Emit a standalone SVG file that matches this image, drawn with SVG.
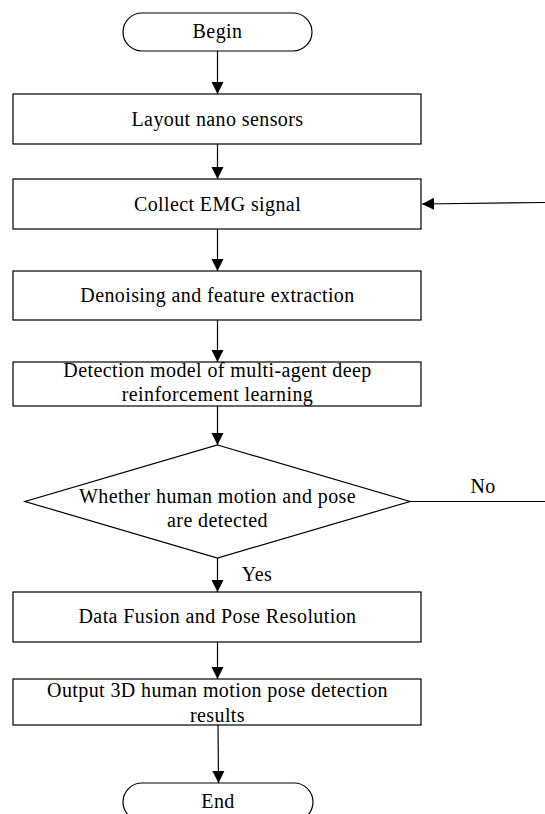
<svg xmlns="http://www.w3.org/2000/svg" width="545" height="814" viewBox="0 0 545 814">
<style>
.n{fill:#fff;stroke:#000;stroke-width:1.2}
.t{font-family:"Liberation Serif","Times New Roman",serif;font-size:20px;letter-spacing:0.4px;fill:#000;text-anchor:middle}
.c{fill:none;stroke:#000;stroke-width:1.2}
</style>
<defs>
<marker id="ah" markerUnits="userSpaceOnUse" markerWidth="12" markerHeight="14" viewBox="0 0 12 14" refX="12" refY="7" orient="auto">
<path d="M0,1 L12,7 L0,13 Z" fill="#000"/>
</marker>
</defs>
<rect width="545" height="814" fill="#fff"/>
<g id="connectors">
<line class="c" x1="217.5" y1="51" x2="217.5" y2="94" marker-end="url(#ah)"/>
<line class="c" x1="217.5" y1="144" x2="217.5" y2="179" marker-end="url(#ah)"/>
<line class="c" x1="217.5" y1="229" x2="217.5" y2="271" marker-end="url(#ah)"/>
<line class="c" x1="217.5" y1="320" x2="217.5" y2="362" marker-end="url(#ah)"/>
<line class="c" x1="217.5" y1="406" x2="217.5" y2="445" marker-end="url(#ah)"/>
<line class="c" x1="217.5" y1="558" x2="217.5" y2="592" marker-end="url(#ah)"/>
<line class="c" x1="217.5" y1="642" x2="217.5" y2="679" marker-end="url(#ah)"/>
<line class="c" x1="218" y1="725" x2="218.5" y2="783" marker-end="url(#ah)"/>
<line class="c" x1="410" y1="501.5" x2="545" y2="501.5" stroke="#555"/>
<line class="c" x1="545" y1="202.5" x2="422" y2="204" marker-end="url(#ah)"/>
<text class="t" x="483" y="493">No</text>
<text class="t" x="257" y="581">Yes</text>
</g>
<g id="begin">
<rect class="n" x="123" y="13" width="189" height="38" rx="19" ry="19"/>
<text class="t" x="217.5" y="38">Begin</text>
</g>
<g id="layout">
<rect class="n" x="13" y="94" width="408" height="50"/>
<text class="t" x="217.5" y="126">Layout nano sensors</text>
</g>
<g id="collect">
<rect class="n" x="13" y="179" width="408" height="50"/>
<text class="t" x="217.5" y="211">Collect EMG signal</text>
</g>
<g id="denoise">
<rect class="n" x="13" y="271" width="408" height="49"/>
<text class="t" x="217.5" y="302">Denoising and feature extraction</text>
</g>
<g id="detect">
<rect class="n" x="13" y="362" width="408" height="44"/>
<text class="t" x="217.5" y="377">Detection model of multi-agent deep</text>
<text class="t" x="217.5" y="401">reinforcement learning</text>
</g>
<g id="decision">
<polygon class="n" points="217.5,445 410,501.5 217.5,558 25,501.5"/>
<text class="t" x="217.5" y="503">Whether human motion and pose</text>
<text class="t" x="217.5" y="527">are detected</text>
</g>
<g id="fusion">
<rect class="n" x="13" y="592" width="408" height="50"/>
<text class="t" x="217.5" y="623">Data Fusion and Pose Resolution</text>
</g>
<g id="output">
<rect class="n" x="13" y="679" width="408" height="46"/>
<text class="t" x="217.5" y="697">Output 3D human motion pose detection</text>
<text class="t" x="217.5" y="722">results</text>
</g>
<g id="end">
<rect class="n" x="123" y="783" width="190" height="38" rx="19" ry="19"/>
<text class="t" x="218" y="808">End</text>
</g>
</svg>
